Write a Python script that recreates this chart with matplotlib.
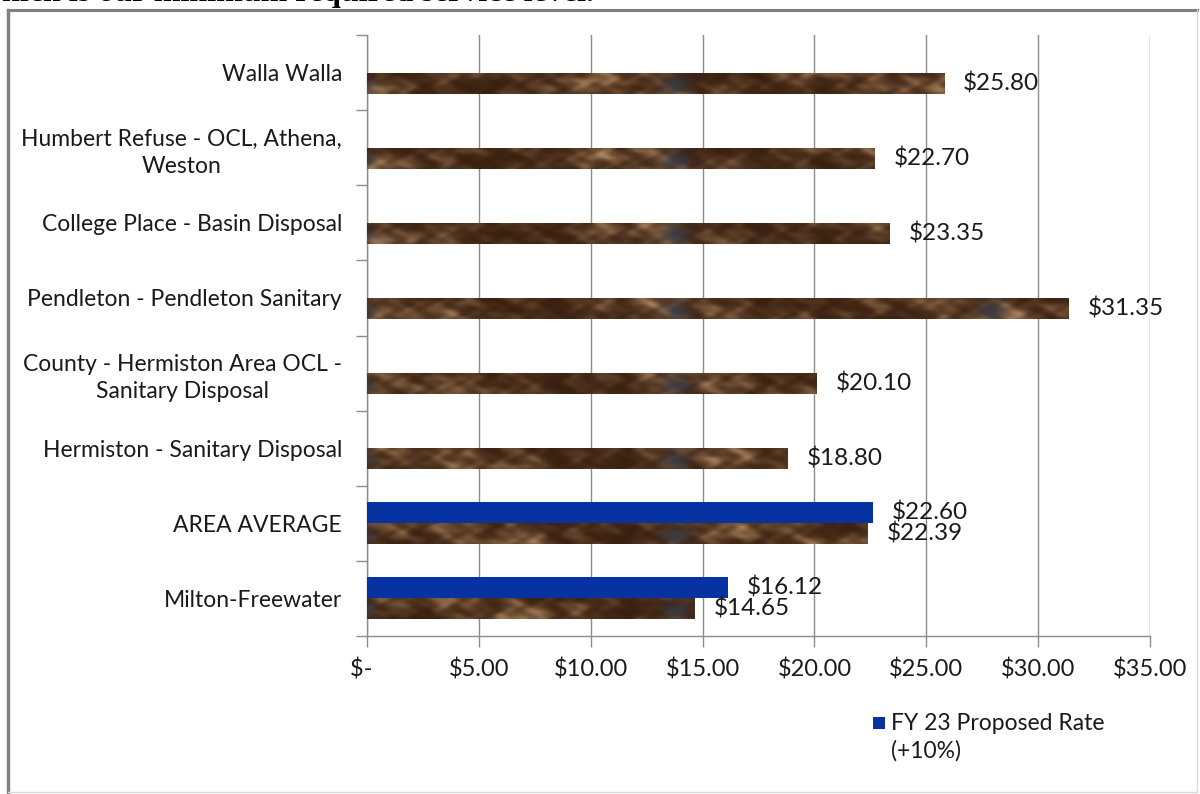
import numpy as np
import matplotlib
matplotlib.use("Agg")
import matplotlib.pyplot as plt
from matplotlib.lines import Line2D
from matplotlib.patches import Rectangle

plt.rcParams['font.family'] = ['Lato', 'DejaVu Sans']

# ---------------- data ----------------
categories = [
    "Walla Walla",
    "Humbert Refuse - OCL, Athena,\nWeston",
    "College Place - Basin Disposal",
    "Pendleton - Pendleton Sanitary",
    "County - Hermiston Area OCL -\nSanitary Disposal",
    "Hermiston - Sanitary Disposal",
    "AREA AVERAGE",
    "Milton-Freewater",
]
current_rates = [25.80, 22.70, 23.35, 31.35, 20.10, 18.80, 22.39, 14.65]
proposed_rates = [None, None, None, None, None, None, 22.60, 16.12]
proposed_label = "FY 23 Proposed Rate\n(+10%)"
x_ticks = [0, 5, 10, 15, 20, 25, 30, 35]
x_tick_labels = ["$-  ", "$5.00", "$10.00", "$15.00", "$20.00", "$25.00", "$30.00", "$35.00"]

# ---------------- figure ----------------
W, H = 1200, 794
fig = plt.figure(figsize=(W / 100, H / 100), dpi=100)
fig.patch.set_facecolor("white")
ax = fig.add_axes([367 / W, 1 - 636 / H, (1150 - 367) / W, (636 - 35) / H])

n = len(categories)
ypos = np.arange(n)[::-1]  # first category at top
bh = 0.28
blue = "#0732A2"
brown = "#5b3a24"
text_col = "#1a1a1a"
grid_col = "#8c8c8c"

brown_bars = ax.barh(ypos - bh / 2, current_rates, height=bh, color=brown, zorder=3)
pv = [np.nan if v is None else v for v in proposed_rates]
ax.barh(ypos + bh / 2, pv, height=bh, color=blue, zorder=3, label=proposed_label)

# texture for the brown bars (decorative, deterministic)
xs = np.linspace(0, 35, 790)
ys = np.linspace(-0.5, n - 0.5, 600)
Xd, Yd = np.meshgrid(xs, ys)
Xp = Xd * 22.37
Yp = Yd * 75.1
v = (np.sin(Xp / 11.0 + 1.3 * np.sin(Yp / 4.0 + Xp / 19.0)) * 0.45
     + np.sin(Xp / 5.3 + 1.5 * np.sin(Yp / 2.7 - Xp / 13.0)) * 0.3
     + np.sin(Xp / 47.0 + Yp / 11.0) * 0.5
     + np.sin(Xp / 29.0 - Yp / 6.3 + np.sin(Xp / 7.0)) * 0.35
     + np.sin(Xp / 3.1 + Yp / 1.9) * 0.12)
t = (v - v.min()) / (v.max() - v.min())
t = np.clip(t, 0, 1) ** 2.4
dark = np.array([58, 32, 16]) / 255
light = np.array([175, 135, 95]) / 255
img = dark + (light - dark) * t[..., None]
tile = 14.1
ph = (Xd - 13.8) % tile
ph = np.minimum(ph, tile - ph)
spot = np.exp(-(ph / 0.6) ** 2) * (0.6 + 0.3 * np.sin(Yp / 3.0))
spotc = np.array([55, 58, 68]) / 255
img = img * (1 - spot[..., None]) + spotc * spot[..., None]
for p in brown_bars.patches:
    im = ax.imshow(img, extent=(0, 35, -0.5, n - 0.5), origin="lower",
                   aspect="auto", zorder=3.5, interpolation="bilinear")
    im.set_clip_path(p)

# value labels
for y, val in zip(ypos, current_rates):
    ax.annotate(f"${val:.2f}", (val, y - bh / 2), xytext=(19 * 0.72, 0),
                textcoords="offset points", va="center", ha="left",
                fontsize=17.5, color=text_col, zorder=5)
for y, val in zip(ypos, proposed_rates):
    if val is not None:
        ax.annotate(f"${val:.2f}", (val, y + bh / 2), xytext=(19 * 0.72, 0),
                    textcoords="offset points", va="center", ha="left",
                    fontsize=17.5, color=text_col, zorder=5)

ax.set_xlim(0, 35)
ax.set_ylim(-0.5, n - 0.5)

ax.set_xticks(x_ticks)
ax.set_xticklabels(x_tick_labels, fontsize=17, color=text_col)
ax.tick_params(axis="x", direction="out", length=8, width=1, color=grid_col, pad=8)

ax.set_yticks(ypos)
ax.set_yticklabels(categories, fontsize=16.5, color=text_col,
                   multialignment="center", linespacing=1.35)
ax.tick_params(axis="y", which="major", length=0, pad=18)
ax.set_yticks(np.arange(n + 1) - 0.5, minor=True)
ax.tick_params(axis="y", which="minor", direction="out", length=8, width=1, color=grid_col)

ax.grid(axis="x", color=grid_col, linewidth=1, zorder=0)
ax.set_axisbelow(True)
for s in ["top", "right"]:
    ax.spines[s].set_visible(False)
for s in ["left", "bottom"]:
    ax.spines[s].set_color(grid_col)
    ax.spines[s].set_linewidth(1)

# legend (key square aligned with the first line of the label, as in Excel)
fig.add_artist(Rectangle((873 / W, 1 - 729 / H), 12 / W, 12 / H,
                         facecolor=blue, edgecolor="none", transform=fig.transFigure))
fig.text(891 / W, 1 - 713 / H, proposed_label, fontsize=16.5, color=text_col,
         va="top", ha="left", linespacing=1.35)

# outer frame
fig.add_artist(Line2D([8 / W, 8 / W], [1 - 10 / H, 1 - 792 / H], color="#808080", linewidth=2.5))
fig.add_artist(Line2D([8 / W, 1197 / W], [1 - 10 / H, 1 - 10 / H], color="#808080", linewidth=2.2))
fig.add_artist(Line2D([1197 / W, 1197 / W], [1 - 10 / H, 1 - 792 / H], color="#d9d9d9", linewidth=1))
fig.add_artist(Line2D([8 / W, 1197 / W], [1 - 792 / H, 1 - 792 / H], color="#d9d9d9", linewidth=1))

# clipped text from the surrounding document
fig.text(2 / W, 1 - 1.5 / H, "hich is our minimum required service level.",
         family=["Liberation Serif", "DejaVu Serif"], weight="bold", fontsize=23,
         va="baseline", ha="left", color="black")

fig.savefig("out.png", dpi=100)
